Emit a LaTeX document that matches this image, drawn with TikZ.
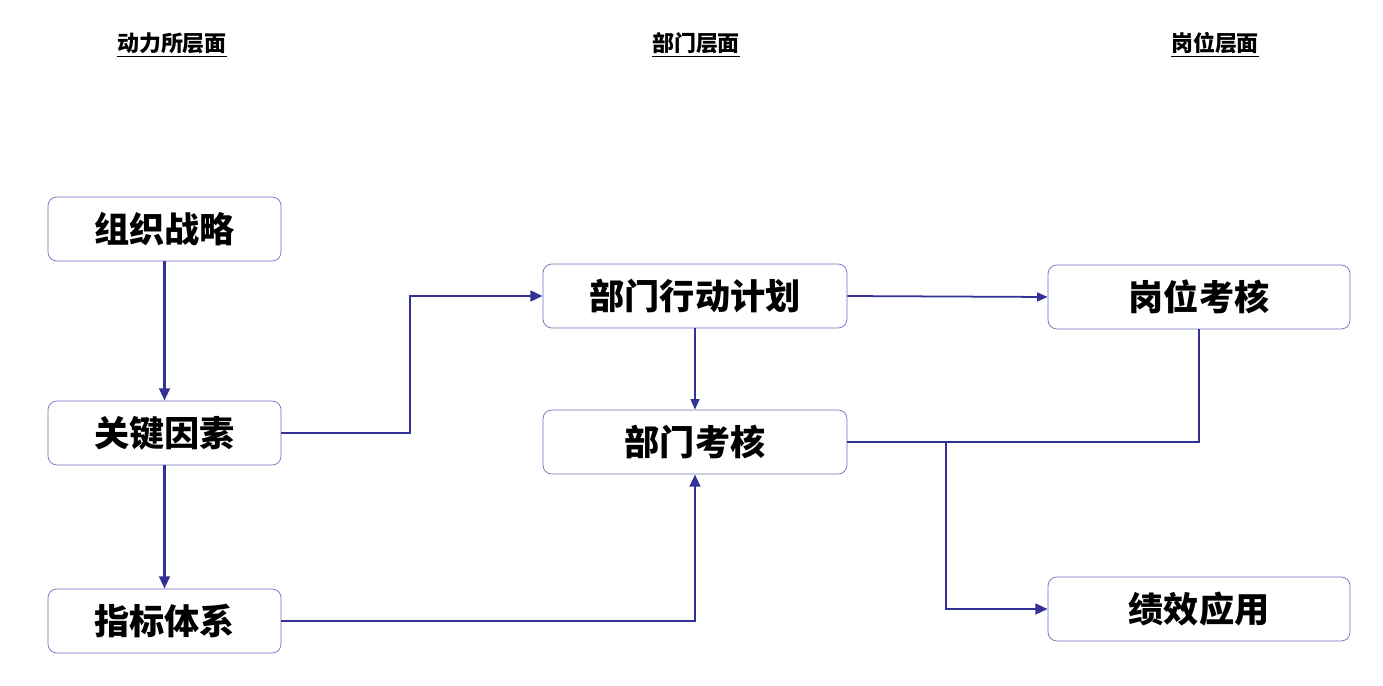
\documentclass[tikz,border=0pt]{standalone}
\usepackage{fontspec}
\setmainfont{Noto Sans CJK SC}
\usepackage{tikz}
\usetikzlibrary{arrows.meta}
\usetikzlibrary{positioning}
\definecolor{linkblue}{RGB}{50,50,150}
\definecolor{boxline}{RGB}{110,110,190}
\begin{document}
\begin{tikzpicture}
        [x=0.02cm,y=-0.02cm,
        stage/.style={rectangle,rounded corners=5pt,draw=boxline,thin,fill=white,minimum height=1.28cm,inner sep=2pt,text centered,font=\bfseries\fontsize{20}{24}\selectfont},
        level/.style={font=\bfseries\fontsize{12.5}{15}\selectfont},
        on/.style={-{Triangle[length=7pt,width=6pt]},linkblue,line width=1.6pt},
        thinon/.style={-{Triangle[length=6pt,width=5pt]},linkblue,line width=1pt},
        plainlink/.style={linkblue,line width=1.6pt}]
\useasboundingbox (0,0) rectangle (1383,686);

% Headers %
 \node[level] (h1) at (172,45) {\underline{动力所层面}};
 \node[level] (h2) at (696,45) {\underline{部门层面}};
 \node[level] (h3) at (1215,45) {\underline{岗位层面}};

% Stages %
 \node[stage,minimum width=4.66cm] (s1) at (164.5,229) {组织战略};
 \node[stage,minimum width=4.66cm] (s2) at (164.5,433) {关键因素};
 \node[stage,minimum width=4.66cm] (s3) at (164.5,621) {指标体系};
 \node[stage,minimum width=6.08cm] (d1) at (695,296) {部门行动计划};
 \node[stage,minimum width=6.08cm] (d2) at (695,442) {部门考核};
 \node[stage,minimum width=6.04cm] (p1) at (1199,297) {岗位考核};
 \node[stage,minimum width=6.04cm] (p2) at (1199,609) {绩效应用};

% Links %
 \draw[on] (s1) -- (s2);
 \draw[on] (s2) -- (s3);
 \draw[on] (s2.east) -- (410,433) |- (d1.west);
 \draw[on] (s3.east) -| (d2.south);
 \draw[thinon] (d1) -- (d2);
 \draw[thinon] (d1.east) -- (p1.west);
 \draw[plainlink] (p1.south) |- (d2.east);
 \draw[on] (d2.east) -- (946,442) |- (p2.west);

\end{tikzpicture}
\end{document}
